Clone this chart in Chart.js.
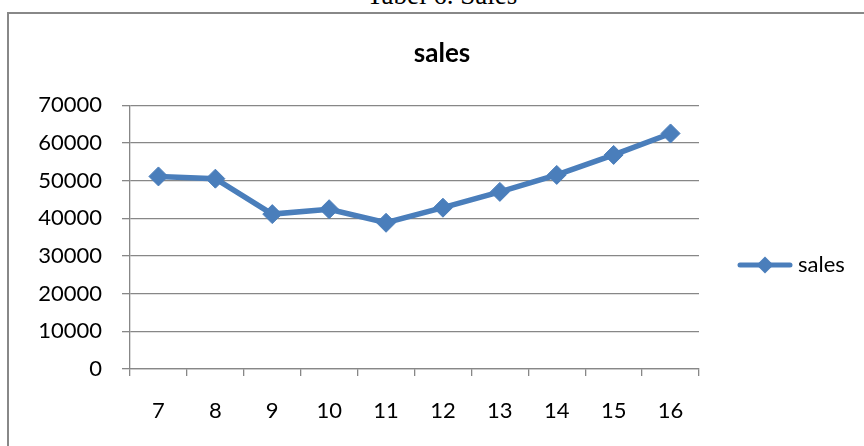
<!DOCTYPE html>
<html lang="en">
<head>
  <meta charset="UTF-8">
  <title>Tabel 6. Sales</title>
  <script src="https://cdn.jsdelivr.net/npm/chart.js"></script>
  <style>
    html, body {
      margin: 0;
      padding: 0;
      background: #fff;
      overflow: hidden;
    }
    .caption {
      position: absolute;
      left: 0;
      top: -18px;
      width: 884px;
      text-align: center;
      font: 27px "Liberation Serif", "Times New Roman", serif;
      line-height: 27px;
      color: #000;
    }
    .frame {
      position: absolute;
      left: 7px;
      top: 12px;
      width: 900px;
      height: 500px;
      border-top: 2px solid #888;
      border-left: 2px solid #888;
    }
    .chart-box {
      position: absolute;
      left: 0;
      top: 0;
      width: 864px;
      height: 446px;
    }
  </style>
</head>
<body>
  <div class="caption">Tabel 6. Sales</div>
  <div class="frame"></div>
  <div class="chart-box">
    <canvas id="salesChart"></canvas>
  </div>

  <script>
    const periods = ['7', '8', '9', '10', '11', '12', '13', '14', '15', '16'];
    const sales = [51100, 50500, 41100, 42400, 38800, 42800, 47000, 51500, 56800, 62500];
    const yMin = 0;
    const yMax = 70000;
    const yStep = 10000;

    const blue = '#4a7ebb';
    const gray = '#878787';
    const fontFamily = 'Lato, "Open Sans", sans-serif';

    // legend symbol: short line with a diamond, like the office chart
    function legendSymbol() {
      const c = document.createElement('canvas');
      c.width = 56;
      c.height = 20;
      const g = c.getContext('2d');
      g.strokeStyle = blue;
      g.lineWidth = 5;
      g.lineCap = 'round';
      g.beginPath();
      g.moveTo(3, 10);
      g.lineTo(53, 10);
      g.stroke();
      g.fillStyle = blue;
      g.beginPath();
      g.moveTo(28, 1.5);
      g.lineTo(36.5, 10);
      g.lineTo(28, 18.5);
      g.lineTo(19.5, 10);
      g.closePath();
      g.fill();
      return c;
    }

    // measure the legend text so the plot lands where the original has it
    const mctx = document.createElement('canvas').getContext('2d');
    mctx.font = '22px ' + fontFamily;
    const legendTextW = mctx.measureText('sales').width;
    const padRight = Math.max(0, 56 - legendTextW);
    const padLeft = padRight + 20;

    const ctx = document.getElementById('salesChart').getContext('2d');
    new Chart(ctx, {
      type: 'line',
      data: {
        labels: periods,
        datasets: [{
          label: 'sales',
          data: sales,
          borderColor: blue,
          backgroundColor: blue,
          borderWidth: 5.5,
          tension: 0,
          pointStyle: 'rectRot',
          pointRadius: 9.5,
          pointBorderWidth: 1,
          pointBackgroundColor: blue,
          pointBorderColor: blue
        }]
      },
      options: {
        responsive: true,
        maintainAspectRatio: false,
        animation: false,
        layout: {
          padding: { left: padLeft, right: padRight, top: 0, bottom: 0 }
        },
        plugins: {
          title: {
            display: true,
            text: 'sales',
            color: '#000',
            font: { family: fontFamily, size: 26, weight: 'bold' },
            padding: { top: 38, bottom: 36 }
          },
          legend: {
            position: 'right',
            // empty legend title only pushes the entry down a bit
            title: {
              display: true,
              text: '',
              font: { size: 10 },
              padding: 36
            },
            labels: {
              usePointStyle: true,
              pointStyle: legendSymbol(),
              pointStyleWidth: 44,
              padding: 44,
              color: '#000',
              font: { family: fontFamily, size: 22 }
            }
          },
          tooltip: { enabled: false }
        },
        scales: {
          x: {
            offset: true,
            grid: {
              display: true,
              offset: true,
              drawOnChartArea: false,
              drawTicks: true,
              tickLength: 7,
              color: gray,
              lineWidth: 1.3
            },
            border: { color: gray, width: 1.3 },
            ticks: {
              color: '#000',
              padding: 22,
              maxRotation: 0,
              font: { family: fontFamily, size: 22 }
            },
            afterFit: scale => { scale.height = 77; }
          },
          y: {
            min: yMin,
            max: yMax,
            grid: {
              color: gray,
              lineWidth: 1.3,
              tickLength: 8
            },
            border: { color: gray, width: 1.3 },
            ticks: {
              stepSize: yStep,
              color: '#000',
              padding: 20,
              font: { family: fontFamily, size: 22 },
              callback: value => String(value)
            },
            afterFit: scale => { scale.width = 130 - padLeft; }
          }
        }
      }
    });
  </script>
</body>
</html>
